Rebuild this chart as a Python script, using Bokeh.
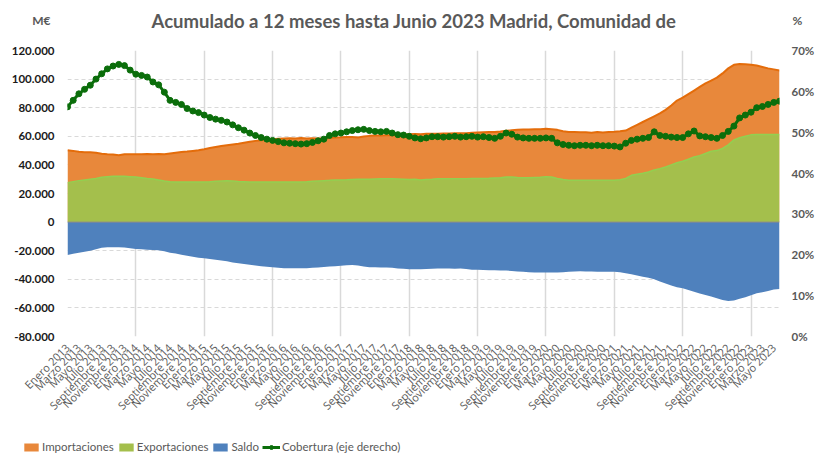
import math
from bokeh.plotting import figure
from bokeh.layouts import column, row
from bokeh.models import (Range1d, LinearAxis, FixedTicker, Span, Label, Legend, LegendItem)
from bokeh.embed import file_html
from bokeh.resources import INLINE

months = ["Enero", "Febrero", "Marzo", "Abril", "Mayo", "Junio", "Julio", "Agosto",
          "Septiembre", "Octubre", "Noviembre", "Diciembre"]
years = [2013, 2014, 2015, 2016, 2017, 2018, 2019, 2020, 2021, 2022, 2023]

# Importaciones (M€), Enero 2013 .. Junio 2023
importaciones = [
    50200, 49800, 49200, 48900, 48800, 48500, 47800, 47500, 47300, 46800, 47400, 47500,
    47500, 47500, 47600, 47500, 47600, 47500, 48000, 48500, 49000, 49300, 49800, 50300,
    51000, 51800, 52500, 53200, 53800, 54300, 54800, 55500, 56200, 56800, 57200, 57800,
    58000, 58300, 58500, 58600, 58500, 58800, 58500, 58600, 58500, 58700, 59000, 59200,
    59300, 59500, 59500, 59200, 59800, 60300, 60500, 60600, 60800, 60800, 61000, 61200,
    61500, 61600, 61500, 61700, 61800, 61800, 62000, 62000, 62100, 62200, 62200, 62400,
    62600, 62800, 63000, 63000, 63300, 63800, 64200, 64500, 64700, 64800, 65000, 65000,
    65200, 65000, 64500, 63500, 63000, 63000, 62800, 62800, 62500, 63000, 62700, 63000,
    63200, 63500, 64000, 66000, 68000, 70000, 72000, 74000, 76000, 78500, 81500, 85000,
    87000, 89500, 92000, 94500, 97000, 99000, 101000, 104000, 107500, 110000, 110500, 110300,
    110000, 109500, 108500, 107500, 106800, 106000,
]
exportaciones = [
    27600, 28300, 29000, 29500, 30000, 30500, 31300, 31800, 32000, 32000, 32000, 31800,
    31500, 31000, 30500, 30200, 29500, 28800, 28200, 28000, 28000, 28000, 28000, 28000,
    28000, 28200, 28500, 28800, 29000, 28800, 28400, 28200, 28000, 28000, 28000, 28000,
    28000, 28000, 28000, 28000, 28000, 28000, 28200, 28500, 28800, 29000, 29200, 29500,
    29500, 29600, 29800, 30000, 30000, 30000, 30200, 30300, 30300, 30300, 30200, 30000,
    29800, 30000, 29500, 29800, 30000, 30300, 30300, 30300, 30400, 30400, 30400, 30500,
    30500, 30500, 30600, 30800, 31000, 31600, 31500, 31200, 31000, 31000, 31200, 31400,
    31800, 31500, 30500, 29800, 29300, 29300, 29300, 29300, 29300, 29300, 29300, 29300,
    29300, 29600, 30500, 32700, 33500, 34200, 35000, 36500, 37400, 38500, 40000, 41500,
    42500, 44000, 45500, 46500, 48000, 49500, 50000, 51500, 54000, 57500, 59000, 60000,
    61000, 61300, 61300, 61300, 61300, 61300,
]
saldo = [
    -23000, -22200, -21400, -20800, -20000, -19000, -18000, -17600, -17500, -17600, -17700, -18200,
    -18800, -19000, -19300, -19500, -19600, -20400, -21400, -22000, -22800, -23500, -24200, -24900,
    -25300, -25800, -26300, -26800, -27400, -28200, -28800, -29300, -29800, -30300, -30800, -31200,
    -31500, -31900, -32200, -32300, -32300, -32300, -32200, -32000, -31800, -31400, -31000, -30800,
    -30500, -30200, -30000, -30400, -31000, -31500, -31600, -31800, -31800, -32000, -32500, -32700,
    -32900, -33000, -33000, -32800, -32600, -32500, -32500, -32500, -32600, -32500, -32800, -33400,
    -33400, -33500, -33600, -33700, -33800, -33900, -34200, -34500, -34800, -35000, -35200, -35300,
    -35300, -35300, -35200, -35000, -34800, -34600, -34400, -34500, -34600, -34700, -34800, -34800,
    -34800, -35000, -35800, -36500, -37300, -38300, -39000, -40000, -41500, -43000, -44400, -45500,
    -46300, -47500, -48700, -50000, -50900, -52000, -53200, -54500, -55100, -54800, -53600, -52500,
    -51200, -49800, -49000, -48200, -47200, -46700,
]
# Cobertura (%), eje derecho
cobertura = [
    56.2, 57.8, 59.4, 60.5, 61.5, 63.0, 64.3, 65.5, 66.2, 66.6, 66.3, 65.2,
    64.2, 63.9, 63.5, 62.3, 61.6, 59.8, 57.8, 57.3, 56.8, 55.8, 55.2, 54.8,
    54.2, 53.6, 53.2, 52.9, 52.5, 51.8, 51.1, 50.5, 49.8, 49.2, 48.7, 48.3,
    48.0, 47.7, 47.4, 47.3, 47.2, 47.1, 47.2, 47.5, 47.9, 48.3, 49.2, 49.6,
    49.8, 50.1, 50.4, 50.6, 50.7, 50.4, 50.2, 50.1, 50.2, 49.8, 49.4, 49.3,
    49.0, 48.6, 48.4, 48.6, 48.9, 48.9, 48.8, 48.9, 49.0, 48.8, 48.9, 49.0,
    48.8, 48.9, 48.7, 48.5, 49.0, 49.8, 49.5, 48.8, 48.6, 48.5, 48.5, 48.5,
    48.6, 48.5, 47.4, 47.0, 46.8, 46.7, 46.8, 46.8, 46.7, 46.8, 46.7, 46.7,
    46.6, 46.4, 47.3, 48.0, 48.3, 48.5, 48.7, 50.1, 49.2, 49.0, 48.8, 48.7,
    48.7, 49.6, 50.3, 49.1, 48.9, 48.7, 48.5, 49.2, 50.2, 51.5, 53.5, 54.2,
    54.9, 56.0, 56.3, 56.8, 57.3, 57.6,
]
left_ticks = [-80000, -60000, -40000, -20000, 0, 20000, 40000, 60000, 80000, 100000, 120000]
left_tick_labels = ["-80.000", "-60.000", "-40.000", "-20.000", "0", "20.000", "40.000",
                    "60.000", "80.000", "100.000", "120.000"]
right_ticks = [0, 10, 20, 30, 40, 50, 60, 70]
right_tick_labels = ["0%", "10%", "20%", "30%", "40%", "50%", "60%", "70%"]
series_names = ["Importaciones", "Exportaciones", "Saldo", "Cobertura (eje derecho)"]
title_text = "Acumulado a 12 meses hasta Junio 2023 Madrid, Comunidad de"
left_unit, right_unit = "M€", "%"

C_IMP, C_IMP_LINE = "#E8883B", "#E46C0A"
C_EXP, C_EXP_LINE = "#A4BF4C", "#92D050"
C_SAL = "#4F81BD"
C_COB = "#0B6E0B"
GRAY = "#595959"

n = len(importaciones)
x = list(range(n))
month_labels = [f"{months[i % 12]} {years[i // 12]}" for i in range(n)]
label_idx = list(range(0, n, 2))
year_idx = list(range(0, n, 12))

FONT = "Lato"
XFONT = "Open Sans"
W = 817
HEAD_H = 42
MAIN_H = 378
LEG_H = 33
FRAME_L, FRAME_R = 67, 782


def plain_axis(ax):
    ax.axis_line_color = None
    ax.major_tick_line_color = None
    ax.minor_tick_line_color = None
    ax.major_tick_out = 0
    ax.major_tick_in = 0
    ax.minor_tick_out = 0
    ax.minor_tick_in = 0


# ---------- header: title + unit labels ----------
x_rng = Range1d(0, n - 1)
head = figure(width=W, height=HEAD_H, output_backend="svg", toolbar_location=None,
              x_range=x_rng, y_range=Range1d(0, HEAD_H), x_axis_location=None,
              min_border_left=FRAME_L, min_border_right=W - FRAME_R,
              min_border_top=0, min_border_bottom=0)
head.grid.visible = False
head.outline_line_color = None
hl = head.yaxis[0]
plain_axis(hl)
hl.ticker = FixedTicker(ticks=[HEAD_H - 20])
hl.major_label_overrides = {HEAD_H - 20: left_unit}
hl.major_label_text_font = FONT
hl.major_label_text_font_style = "bold"
hl.major_label_text_font_size = "12px"
hl.major_label_text_color = GRAY
hl.major_label_standoff = 17
hr = LinearAxis(ticker=FixedTicker(ticks=[HEAD_H - 20]))
plain_axis(hr)
hr.major_label_overrides = {HEAD_H - 20: right_unit}
hr.major_label_text_font = FONT
hr.major_label_text_font_style = "bold"
hr.major_label_text_font_size = "12px"
hr.major_label_text_color = GRAY
hr.major_label_standoff = 13
head.add_layout(hr, "right")
head.add_layout(Label(x=(415 - FRAME_L) / (FRAME_R - FRAME_L) * (n - 1), y=HEAD_H - 20,
                      text=title_text, text_font=FONT, text_font_style="bold",
                      text_font_size="18.5px", text_color=GRAY, text_align="center",
                      text_baseline="middle"))

# ---------- main chart ----------
p = figure(width=W, height=MAIN_H, output_backend="svg", toolbar_location=None,
           x_range=x_rng, y_range=Range1d(-80000, 120000),
           min_border_left=FRAME_L, min_border_right=W - FRAME_R, min_border_top=50 - HEAD_H,
           min_border_bottom=MAIN_H - (337 - HEAD_H))
p.extra_y_ranges = {"pct": Range1d(0, 70)}
p.outline_line_color = None

p.varea(x=x, y1=0, y2=importaciones, fill_color=C_IMP)
p.line(x, importaciones, line_color=C_IMP_LINE, line_width=2)
p.varea(x=x, y1=0, y2=exportaciones, fill_color=C_EXP)
p.line(x, exportaciones, line_color=C_EXP_LINE, line_width=1.5)
p.varea(x=x, y1=saldo, y2=0, fill_color=C_SAL)
p.add_layout(Span(location=0, dimension="width", line_color="#8C8C8C", line_width=1))
p.line(x, cobertura, y_range_name="pct", line_color=C_COB, line_width=3)
p.scatter(x, cobertura, y_range_name="pct", size=6, fill_color=C_COB, line_color=C_COB)

xa = p.xaxis[0]
plain_axis(xa)
xa.ticker = FixedTicker(ticks=label_idx)
xa.major_label_overrides = {i: month_labels[i] for i in label_idx}
xa.major_label_orientation = math.pi / 4
xa.major_label_text_font = XFONT
xa.major_label_text_font_size = "11px"
xa.major_label_text_color = GRAY
xa.major_label_standoff = 9

ya = p.yaxis[0]
plain_axis(ya)
ya.ticker = FixedTicker(ticks=left_ticks)
ya.major_label_overrides = dict(zip(left_ticks, left_tick_labels))
ya.major_label_text_font = FONT
ya.major_label_text_font_style = "bold"
ya.major_label_text_font_size = "11.5px"
ya.major_label_text_color = "#1A1A1A"
ya.major_label_standoff = 13

ra = LinearAxis(y_range_name="pct", ticker=FixedTicker(ticks=right_ticks))
plain_axis(ra)
ra.major_label_overrides = dict(zip(right_ticks, right_tick_labels))
ra.major_label_text_font = FONT
ra.major_label_text_font_style = "bold"
ra.major_label_text_font_size = "11.5px"
ra.major_label_text_color = GRAY
ra.major_label_standoff = 12
p.add_layout(ra, "right")

p.ygrid.ticker = FixedTicker(ticks=left_ticks)
p.ygrid.grid_line_color = "#D9D9D9"
p.ygrid.grid_line_dash = "4 3"
p.xgrid.ticker = FixedTicker(ticks=year_idx)
p.xgrid.grid_line_color = "#D9D9D9"
p.xgrid.grid_line_width = 1.5

# ---------- legend strip (same series, drawn out of view; only the legend shows) ----------
leg = figure(width=W, height=LEG_H, output_backend="svg", toolbar_location=None,
             x_range=Range1d(0, n - 1), y_range=Range1d(500000, 600000),
             x_axis_location=None, y_axis_location=None, min_border=0)
leg.grid.visible = False
leg.outline_line_color = None
lr_imp = leg.varea(x=x, y1=0, y2=importaciones, fill_color=C_IMP)
lr_exp = leg.varea(x=x, y1=0, y2=exportaciones, fill_color=C_EXP)
lr_sal = leg.varea(x=x, y1=saldo, y2=0, fill_color=C_SAL)
lr_cl = leg.line(x, cobertura, line_color=C_COB, line_width=3)
lr_cm = leg.scatter(x, cobertura, size=6, fill_color=C_COB, line_color=C_COB)
legend = Legend(items=[LegendItem(label=series_names[0], renderers=[lr_imp]),
                       LegendItem(label=series_names[1], renderers=[lr_exp]),
                       LegendItem(label=series_names[2], renderers=[lr_sal]),
                       LegendItem(label=series_names[3], renderers=[lr_cl, lr_cm])],
                location=(22, 0), orientation="horizontal", padding=0, margin=0,
                border_line_color=None, background_fill_alpha=0, glyph_width=18,
                glyph_height=10, label_standoff=2, spacing=3, label_text_font=FONT,
                label_text_font_size="11.5px", label_text_color=GRAY, label_height=12)
leg.add_layout(legend)

layout = column(head, p, row(leg), spacing=0)
open("out.html", "w").write(file_html(layout, INLINE))
